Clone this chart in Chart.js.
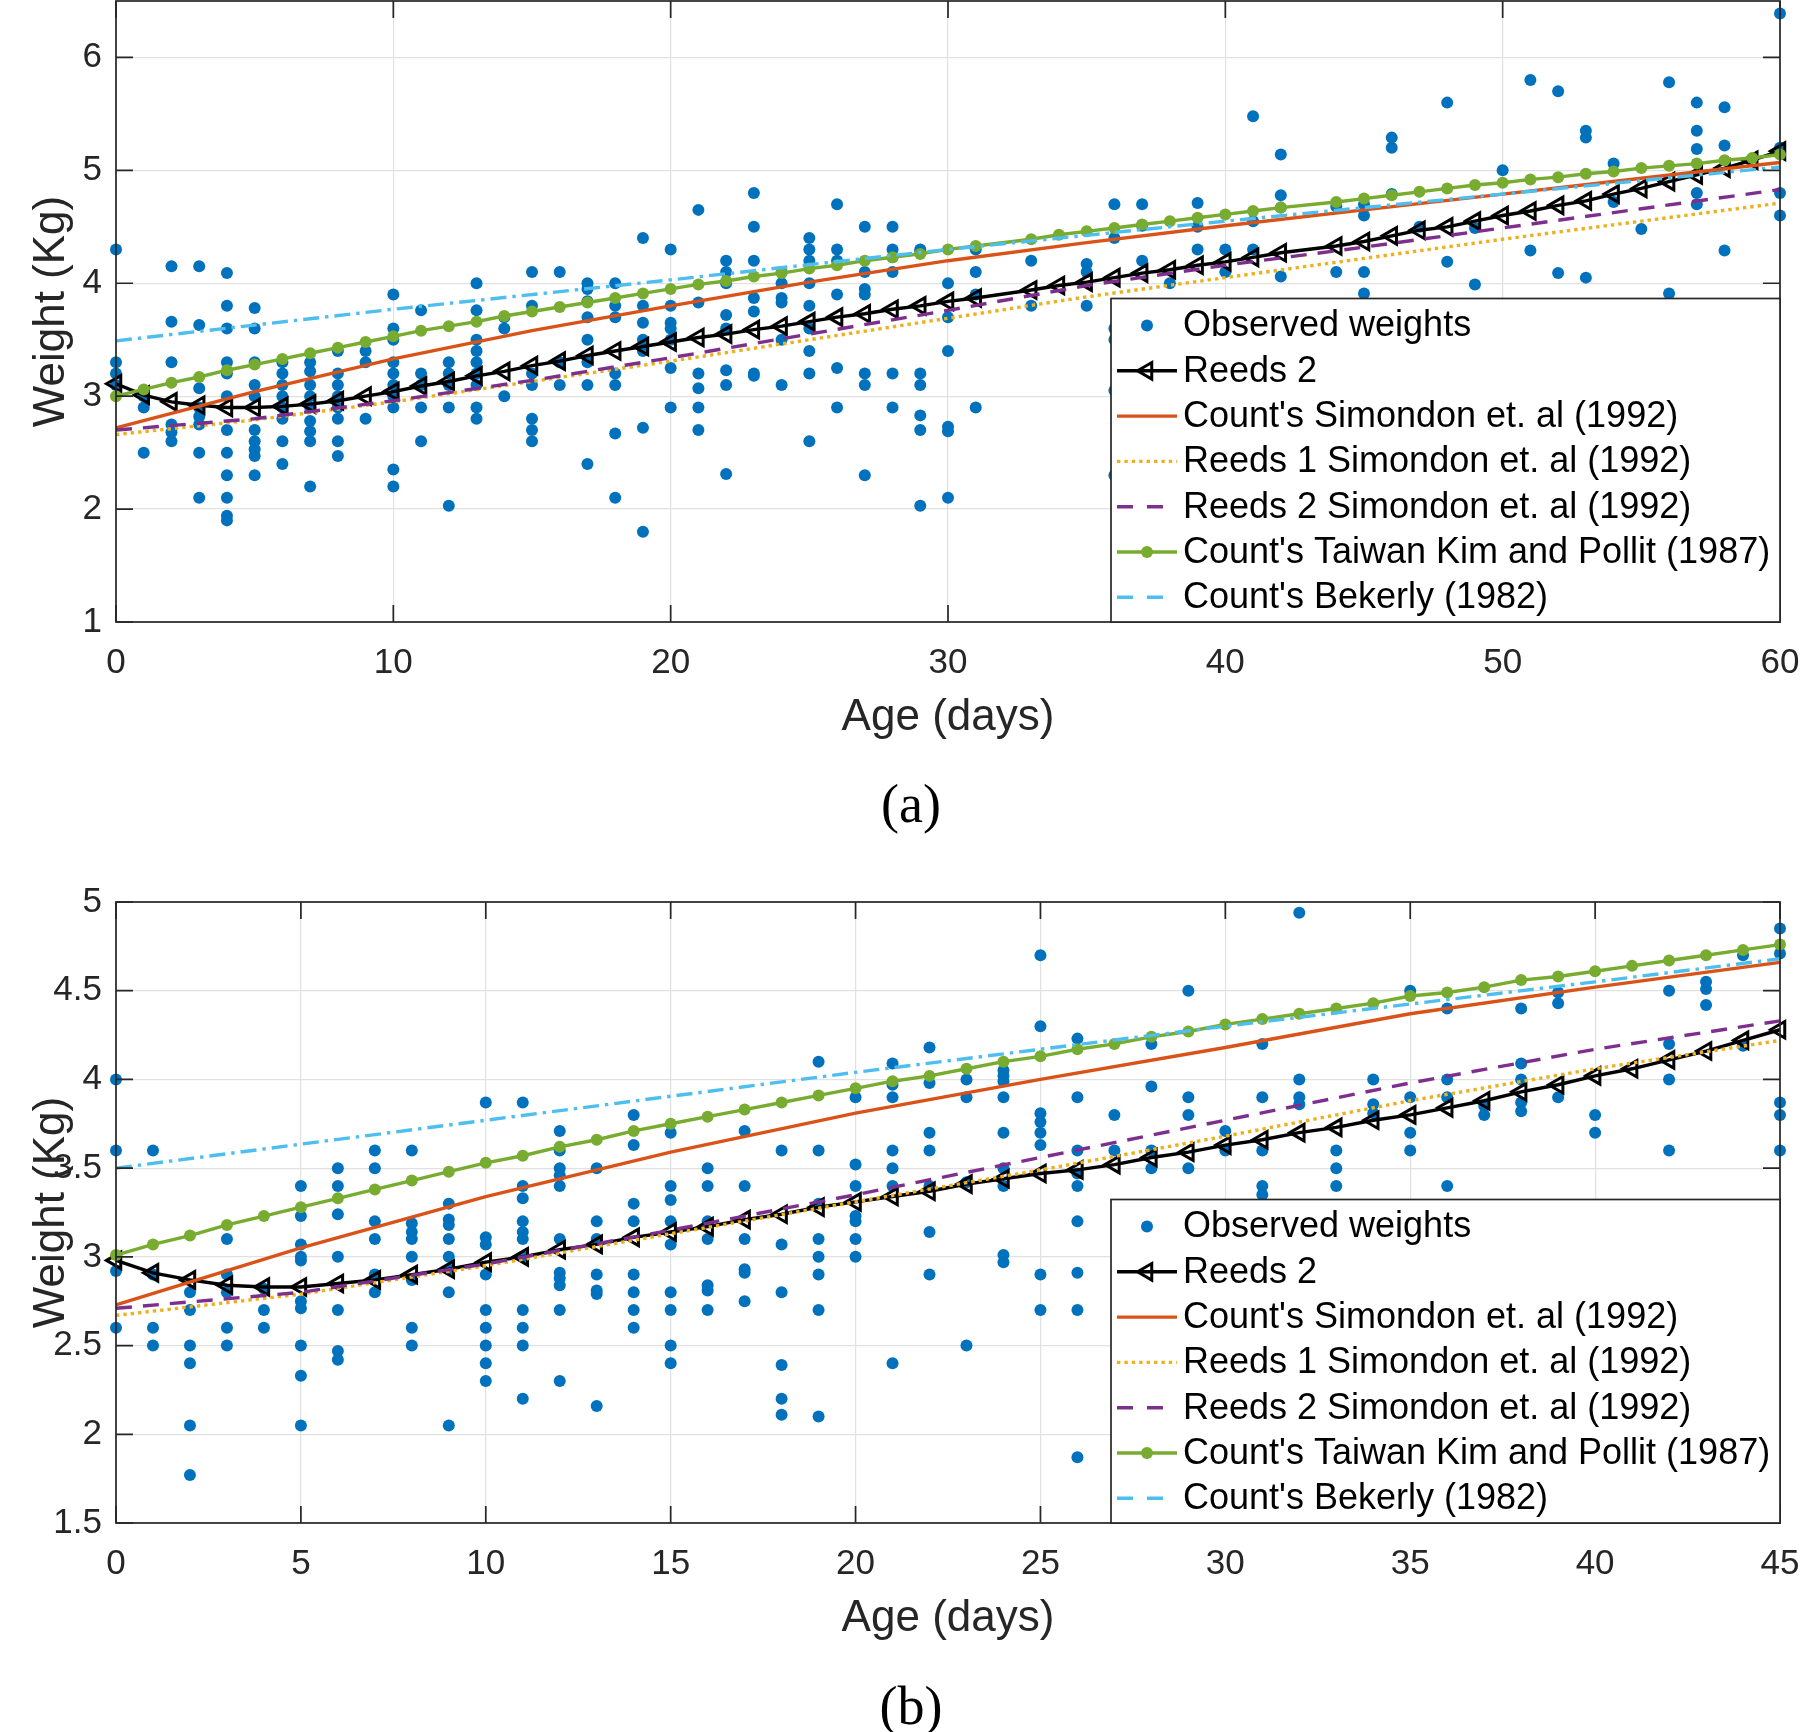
<!DOCTYPE html>
<html>
<head>
<meta charset="utf-8">
<script src="https://cdn.jsdelivr.net/npm/chart.js@4.4.1/dist/chart.umd.min.js"></script>
<style>
html,body{margin:0;padding:0;background:#fff;}
#wrap{position:relative;width:1800px;height:1732px;overflow:hidden;background:#fff;}
canvas{position:absolute;left:0;}
#cA{top:0;}
#cB{top:861px;}
.cap{position:absolute;width:200px;text-align:center;font-family:"Liberation Serif","Times New Roman",serif;font-size:54px;line-height:60px;color:#000;}
</style>
</head>
<body>
<div id="wrap">
<canvas id="cA" width="1800" height="760"></canvas>
<canvas id="cB" width="1800" height="800"></canvas>
<div class="cap" style="left:811px;top:774px">(a)</div>
<div class="cap" style="left:811px;top:1676px">(b)</div>
</div>
<script>
// ---------------- DATA : panel (a) ----------------
const xTicksA = [0, 10, 20, 30, 40, 50, 60];
const xTickLabelsA = ['0', '10', '20', '30', '40', '50', '60'];
const yTicksA = [1, 2, 3, 4, 5, 6];
const yTickLabelsA = ['1', '2', '3', '4', '5', '6'];

// observed weights: [age in days, [weights in kg]]
const observedA = [
  [0, [4.3, 3.3, 3.2, 3.1]],
  [1, [3.05, 3.0, 2.9, 2.5]],
  [2, [4.15, 3.66, 3.3, 2.75, 2.68, 2.6]],
  [3, [4.15, 3.63, 3.07, 2.9, 2.82, 2.75, 2.5, 2.1]],
  [4, [4.09, 3.8, 3.6, 3.3, 3.2, 3.0, 2.7, 2.5, 2.3, 2.1, 1.94, 1.9]],
  [5, [3.78, 3.6, 3.3, 3.1, 3.0, 2.7, 2.6, 2.53, 2.47, 2.3]],
  [6, [3.3, 3.2, 3.1, 3.0, 2.9, 2.8, 2.6, 2.4]],
  [7, [3.3, 3.22, 3.1, 3.0, 2.9, 2.78, 2.69, 2.6, 2.2]],
  [8, [3.4, 3.2, 3.1, 3.0, 2.9, 2.8, 2.6, 2.47]],
  [9, [3.4, 3.3, 2.8]],
  [10, [3.9, 3.6, 3.5, 3.3, 3.2, 3.1, 3.0, 2.9, 2.35, 2.2]],
  [11, [3.76, 3.2, 3.1, 2.9, 2.6]],
  [12, [3.3, 3.2, 3.1, 2.9, 2.03]],
  [13, [4.0, 3.76, 3.5, 3.4, 3.3, 3.2, 3.1, 2.9, 2.8]],
  [14, [3.7, 3.6, 3.0]],
  [15, [4.1, 3.8, 3.2, 3.1, 2.8, 2.7, 2.6]],
  [16, [4.1, 3.3, 3.1]],
  [17, [4.0, 3.95, 3.84, 3.7, 3.5, 3.3, 3.1, 2.4]],
  [18, [4.0, 3.8, 3.7, 3.2, 3.1, 2.67, 2.1]],
  [19, [4.4, 3.8, 3.65, 3.5, 3.4, 2.72, 1.8]],
  [20, [4.3, 3.8, 3.65, 3.6, 3.5, 3.25, 2.9]],
  [21, [4.65, 3.83, 3.2, 3.07, 2.9, 2.7]],
  [22, [4.2, 4.1, 4.0, 3.72, 3.6, 3.23, 3.1, 2.31]],
  [23, [4.8, 4.5, 4.2, 3.87, 3.75, 3.2, 3.18]],
  [24, [4.1, 4.0, 3.87, 3.83, 3.5, 3.1]],
  [25, [4.4, 4.3, 4.2, 4.0, 3.8, 3.6, 3.4, 3.2, 2.6]],
  [26, [4.7, 4.3, 4.2, 3.9, 3.25, 2.9]],
  [27, [4.5, 4.1, 3.95, 3.9, 3.2, 3.1, 2.3]],
  [28, [4.5, 4.3, 4.23, 4.1, 3.2, 2.9]],
  [29, [4.3, 4.28, 3.2, 3.1, 2.83, 2.7, 2.03]],
  [30, [4.0, 3.7, 3.4, 2.73, 2.69, 2.1]],
  [31, [4.3, 4.1, 3.9, 2.9]],
  [33, [4.2, 3.8]],
  [35, [4.17, 4.1, 3.8]],
  [36, [4.7, 4.4, 3.6, 3.5, 3.05, 2.3]],
  [37, [4.7, 4.51, 4.2]],
  [38, [4.0]],
  [39, [4.71, 4.5, 4.3]],
  [40, [4.3, 4.1]],
  [41, [5.48, 4.55, 4.3]],
  [42, [5.14, 4.78, 4.67, 4.06]],
  [44, [4.68, 4.1]],
  [45, [4.7, 4.6, 4.1, 3.91]],
  [46, [5.29, 5.2, 4.79]],
  [47, [4.5]],
  [48, [5.6, 4.19]],
  [49, [4.49, 3.99]],
  [50, [5.0]],
  [51, [5.8, 4.29]],
  [52, [5.7, 4.09]],
  [53, [5.35, 5.29, 4.05]],
  [54, [5.06, 4.72]],
  [55, [4.48]],
  [56, [5.78, 3.91]],
  [57, [5.6, 5.35, 5.19, 4.8, 4.7]],
  [58, [5.56, 5.22, 4.29]],
  [60, [6.39, 5.2, 4.8, 4.6]]
];

const daysA = [0,1,2,3,4,5,6,7,8,9,10,11,12,13,14,15,16,17,18,19,20,21,22,23,24,25,26,27,28,29,30,31,
  33,34,35,36,37,38,39,40,41,42,44,45,46,47,48,49,50,51,52,53,54,55,56,57,58,59,60];
const reeds2A = [3.11,3.01,2.95,2.92,2.90,2.90,2.91,2.93,2.96,3.00,3.04,3.09,3.13,3.18,3.22,3.27,3.31,3.36,3.40,3.44,3.48,3.52,3.55,3.59,3.62,3.66,3.70,3.73,3.77,3.80,3.84,3.87,
  3.94,3.98,4.01,4.05,4.09,4.12,4.16,4.19,4.23,4.27,4.33,4.37,4.42,4.47,4.50,4.55,4.60,4.64,4.69,4.73,4.79,4.84,4.90,4.96,5.02,5.09,5.17];
const taiwanA = [3.00,3.06,3.12,3.17,3.23,3.28,3.33,3.38,3.43,3.48,3.53,3.58,3.62,3.66,3.71,3.75,3.79,3.83,3.87,3.91,3.95,3.99,4.02,4.06,4.09,4.13,4.16,4.20,4.23,4.26,4.30,4.33,
  4.39,4.43,4.46,4.49,4.52,4.55,4.58,4.61,4.64,4.67,4.72,4.75,4.78,4.81,4.84,4.87,4.89,4.92,4.94,4.97,4.99,5.02,5.04,5.06,5.09,5.11,5.14];
const knotDaysA = [0, 5, 10, 15, 20, 25, 30, 35, 40, 45, 50, 55, 60];
const simondonA = [2.72, 3.04, 3.33, 3.58, 3.80, 4.01, 4.20, 4.36, 4.51, 4.65, 4.79, 4.93, 5.07];
const reeds1SimA = [2.66, 2.79, 2.95, 3.13, 3.31, 3.50, 3.69, 3.88, 4.05, 4.22, 4.39, 4.55, 4.71];
const reeds2SimA = [2.70, 2.80, 2.96, 3.14, 3.34, 3.55, 3.76, 3.98, 4.16, 4.32, 4.49, 4.66, 4.83];
const bekerlyDaysA = [0, 10, 20, 30, 40, 50, 60];
const bekerlyA = [3.49, 3.77, 4.03, 4.30, 4.55, 4.79, 5.03];

// ---------------- DATA : panel (b) ----------------
const xTicksB = [0, 5, 10, 15, 20, 25, 30, 35, 40, 45];
const xTickLabelsB = ['0', '5', '10', '15', '20', '25', '30', '35', '40', '45'];
const yTicksB = [1.5, 2, 2.5, 3, 3.5, 4, 4.5, 5];
const yTickLabelsB = ['1.5', '2', '2.5', '3', '3.5', '4', '4.5', '5'];

const observedB = [
  [0, [4.0, 3.6, 2.92, 2.6]],
  [1, [3.6, 2.9, 2.6, 2.5]],
  [2, [2.8, 2.7, 2.5, 2.4, 2.05, 1.77]],
  [3, [3.1, 2.9, 2.8, 2.6, 2.5]],
  [4, [2.82, 2.7, 2.6]],
  [5, [3.4, 3.23, 3.07, 3.0, 2.98, 2.75, 2.71, 2.5, 2.33, 2.05]],
  [6, [3.5, 3.4, 3.24, 3.0, 2.7, 2.47, 2.42]],
  [7, [3.6, 3.5, 3.2, 3.1, 2.9, 2.8]],
  [8, [3.6, 3.19, 3.14, 3.1, 3.0, 2.87, 2.6, 2.5]],
  [9, [3.3, 3.21, 3.18, 3.1, 3.0, 2.93, 2.8, 2.05]],
  [10, [3.87, 3.11, 3.07, 2.9, 2.7, 2.6, 2.5, 2.4, 2.3]],
  [11, [3.87, 3.4, 3.33, 3.2, 3.14, 3.1, 3.0, 2.7, 2.6, 2.5, 2.2]],
  [12, [3.71, 3.6, 3.5, 3.46, 3.4, 3.1, 2.91, 2.88, 2.84, 2.7, 2.3]],
  [13, [3.5, 3.2, 3.1, 2.9, 2.81, 2.79, 2.16]],
  [14, [3.8, 3.63, 3.3, 3.2, 2.9, 2.8, 2.7, 2.6]],
  [15, [3.7, 3.4, 3.32, 3.2, 3.07, 2.8, 2.7, 2.5, 2.4]],
  [16, [3.5, 3.4, 3.2, 3.1, 2.84, 2.81, 2.7]],
  [17, [3.71, 3.4, 3.1, 2.93, 2.91, 2.75]],
  [18, [3.6, 3.07, 2.8, 2.39, 2.2, 2.11]],
  [19, [4.1, 3.6, 3.3, 3.1, 3.0, 2.9, 2.7, 2.1]],
  [20, [3.9, 3.52, 3.4, 3.23, 3.2, 3.1, 3.0]],
  [21, [4.09, 3.97, 3.9, 3.6, 3.5, 3.4, 2.4]],
  [22, [4.18, 3.98, 3.7, 3.6, 3.4, 3.14, 2.9]],
  [23, [4.0, 3.9, 3.42, 2.5]],
  [24, [4.05, 4.02, 3.99, 3.9, 3.7, 3.5, 3.4, 3.01, 2.97]],
  [25, [4.7, 4.3, 3.81, 3.76, 3.7, 3.63, 2.9, 2.7]],
  [26, [4.23, 3.9, 3.6, 3.47, 3.4, 3.2, 2.91, 2.7, 1.87]],
  [27, [3.8, 3.6]],
  [28, [4.2, 3.96, 3.6, 3.5]],
  [29, [4.5, 3.9, 3.8, 3.5]],
  [30, [3.71, 3.6]],
  [31, [4.2, 3.9, 3.6, 3.4, 3.35]],
  [32, [4.94, 4.0, 3.9, 3.86]],
  [33, [3.6, 3.5, 3.4]],
  [34, [4.0, 3.86, 3.81]],
  [35, [4.5, 3.9, 3.7, 3.6]],
  [36, [4.4, 4.0, 3.9, 3.4]],
  [37, [3.85, 3.8]],
  [38, [4.4, 4.09, 4.0, 3.87, 3.82]],
  [39, [4.49, 4.43, 3.9]],
  [40, [3.8, 3.7]],
  [42, [4.5, 4.2, 4.0, 3.6]],
  [43, [4.55, 4.51, 4.42]],
  [44, [4.7, 4.19]],
  [45, [4.85, 4.71, 3.87, 3.8, 3.6]]
];

const daysB = [0,1,2,3,4,5,6,7,8,9,10,11,12,13,14,15,16,17,18,19,20,21,22,23,24,25,26,27,28,29,30,31,32,33,34,35,36,37,38,39,40,41,42,43,44,45];
const reeds2B = [2.98,2.91,2.87,2.84,2.83,2.83,2.85,2.87,2.90,2.93,2.97,3.00,3.04,3.07,3.11,3.14,3.17,3.21,3.24,3.28,3.31,3.34,3.37,3.41,3.44,3.47,3.49,3.52,3.56,3.59,3.63,3.66,3.70,3.73,3.77,3.80,3.84,3.88,3.93,3.97,4.02,4.06,4.11,4.16,4.22,4.28];
const taiwanB = [3.01,3.07,3.12,3.18,3.23,3.28,3.33,3.38,3.43,3.48,3.53,3.57,3.62,3.66,3.71,3.75,3.79,3.83,3.87,3.91,3.95,3.99,4.02,4.06,4.10,4.13,4.17,4.20,4.24,4.27,4.31,4.34,4.37,4.40,4.43,4.47,4.49,4.52,4.56,4.58,4.61,4.64,4.67,4.70,4.73,4.76];
const knotDaysB = [0, 5, 10, 15, 20, 25, 30, 35, 40, 45];
const simondonB = [2.73, 3.05, 3.34, 3.59, 3.81, 4.00, 4.18, 4.37, 4.52, 4.66];
const reeds1SimB = [2.67, 2.79, 2.95, 3.13, 3.31, 3.49, 3.68, 3.88, 4.06, 4.22];
const reeds2SimB = [2.71, 2.80, 2.96, 3.15, 3.35, 3.56, 3.77, 3.98, 4.17, 4.33];
const bekerlyDaysB = [0, 10, 20, 30, 40, 45];
const bekerlyB = [3.50, 3.77, 4.04, 4.30, 4.55, 4.68];

const seriesNames = ['Observed weights', 'Reeds 2', "Count's Simondon et. al (1992)",
  'Reeds 1 Simondon et. al (1992)', 'Reeds 2 Simondon et. al (1992)',
  "Count's Taiwan Kim and Pollit (1987)", "Count's Bekerly (1982)"];

// ---------------- helpers ----------------
const FONT = '"Liberation Sans", Arial, Helvetica, sans-serif';
const AXC = '#262626';
function expand(groups) {
  const pts = [];
  groups.forEach(([d, ws]) => ws.forEach(w => pts.push({x: d, y: w})));
  return pts;
}
function zip(xs, ys) { return xs.map((x, i) => ({x: x, y: ys[i]})); }

// style info (kept apart from the data)
const LW = 3.4;
const STY = [
  {color: '#0072BD', kind: 'dots', r: 6},
  {color: '#000000', kind: 'line', marker: 'tri', r: 9.5, dash: []},
  {color: '#D95319', kind: 'line', dash: []},
  {color: '#EDB120', kind: 'line', dash: [3.4, 4], legDash: [3.4, 4]},
  {color: '#7E2F8E', kind: 'line', dash: [16, 11], legDash: [16, 14]},
  {color: '#77AC30', kind: 'line', marker: 'dot', r: 6, dash: []},
  {color: '#4DBEEE', kind: 'line', dash: [16, 6, 3.4, 6], legDash: [16, 14]}
];

const decorPlugin = {
  id: 'decor',
  afterDatasetsDraw(chart) {
    const ctx = chart.ctx, a = chart.chartArea;
    const xs = chart.scales.x, ys = chart.scales.y;
    ctx.save();
    // box and inner ticks
    ctx.strokeStyle = AXC; ctx.lineWidth = 1.7;
    ctx.strokeRect(a.left, a.top, a.right - a.left, a.bottom - a.top);
    const L = 17;
    ctx.beginPath();
    xs.ticks.forEach(t => {
      const p = xs.getPixelForValue(t.value);
      ctx.moveTo(p, a.bottom); ctx.lineTo(p, a.bottom - L);
      ctx.moveTo(p, a.top); ctx.lineTo(p, a.top + L);
    });
    ys.ticks.forEach(t => {
      const p = ys.getPixelForValue(t.value);
      ctx.moveTo(a.left, p); ctx.lineTo(a.left + L, p);
      ctx.moveTo(a.right, p); ctx.lineTo(a.right - L, p);
    });
    ctx.stroke();
    // legend
    const bw = 669, bh = 323.5;
    const bx = a.right - bw, by = a.bottom - bh;
    ctx.fillStyle = '#fff';
    ctx.fillRect(bx, by, bw, bh);
    ctx.strokeStyle = AXC; ctx.lineWidth = 1.7;
    ctx.strokeRect(bx, by, bw, bh);
    chart.data.datasets.forEach((ds, i) => {
      const s = STY[i];
      const cy = by + 27 + i * 45.3;
      const x0 = bx + 6, x1 = bx + 66, xm = bx + 36;
      if (s.kind === 'line') {
        ctx.save();
        ctx.strokeStyle = s.color; ctx.lineWidth = LW;
        ctx.setLineDash(s.legDash || []);
        ctx.beginPath(); ctx.moveTo(x0, cy); ctx.lineTo(x1, cy); ctx.stroke();
        ctx.restore();
      }
      if (s.kind === 'dots' || s.marker === 'dot') {
        ctx.fillStyle = s.color;
        ctx.beginPath(); ctx.arc(xm, cy, s.r, 0, Math.PI * 2); ctx.fill();
      }
      if (s.marker === 'tri') {
        const r = s.r;
        ctx.strokeStyle = s.color; ctx.lineWidth = 3; ctx.setLineDash([]);
        ctx.beginPath();
        ctx.moveTo(xm - r, cy);
        ctx.lineTo(xm + r * 0.5, cy - r * 0.866);
        ctx.lineTo(xm + r * 0.5, cy + r * 0.866);
        ctx.closePath(); ctx.stroke();
      }
      ctx.fillStyle = '#000';
      ctx.font = '36px ' + FONT;
      ctx.textBaseline = 'middle';
      ctx.textAlign = 'left';
      ctx.fillText(ds.label, bx + 72, cy + 1);
    });
    ctx.restore();
  }
};

function buildChart(id, d) {
  const datasets = [
    {label: seriesNames[0], data: expand(d.observed), showLine: false, pointRadius: STY[0].r,
     pointBackgroundColor: STY[0].color, pointBorderWidth: 0, order: 10, clip: false},
    {label: seriesNames[1], data: zip(d.days, d.reeds2), showLine: true, borderColor: STY[1].color,
     borderWidth: LW, tension: 0, pointStyle: 'triangle', pointRotation: -90, pointRadius: STY[1].r,
     pointBorderWidth: 3, pointBorderColor: '#000', pointBackgroundColor: 'rgba(0,0,0,0)', order: 6, clip: false},
    {label: seriesNames[2], data: zip(d.knots, d.simondon), showLine: true, borderColor: STY[2].color,
     borderWidth: LW, tension: 0, pointRadius: 0, order: 5, clip: false},
    {label: seriesNames[3], data: zip(d.knots, d.reeds1Sim), showLine: true, borderColor: STY[3].color,
     borderWidth: LW, borderDash: STY[3].dash, tension: 0, pointRadius: 0, order: 4, clip: false},
    {label: seriesNames[4], data: zip(d.knots, d.reeds2Sim), showLine: true, borderColor: STY[4].color,
     borderWidth: LW, borderDash: STY[4].dash, tension: 0, pointRadius: 0, order: 3, clip: false},
    {label: seriesNames[5], data: zip(d.days, d.taiwan), showLine: true, borderColor: STY[5].color,
     borderWidth: LW, tension: 0, pointStyle: 'circle', pointRadius: STY[5].r, pointBorderWidth: 0,
     pointBackgroundColor: STY[5].color, order: 2, clip: false},
    {label: seriesNames[6], data: zip(d.bekDays, d.bekerly), showLine: true, borderColor: STY[6].color,
     borderWidth: LW, borderDash: STY[6].dash, tension: 0, pointRadius: 0, order: 1, clip: false}
  ];
  return new Chart(document.getElementById(id), {
    type: 'scatter',
    data: {datasets: datasets},
    options: {
      responsive: false, animation: false, devicePixelRatio: 1,
      layout: {autoPadding: false, padding: {left: 0, right: 20, top: d.padTop, bottom: 0}},
      plugins: {legend: {display: false}, tooltip: {enabled: false}},
      events: [],
      scales: {
        x: {
          type: 'linear', min: d.xMin, max: d.xMax,
          afterBuildTicks: s => { s.ticks = d.xTicks.map(v => ({value: v})); },
          afterFit: s => { s.height = 138; s.paddingLeft = 0; s.paddingRight = 0; },
          grid: {color: '#e1e1e1', lineWidth: 1.2, drawTicks: false},
          border: {display: false},
          ticks: {padding: 20, autoSkip: false, maxRotation: 0, color: AXC,
                  font: {family: FONT, size: 35}, callback: (v, i) => d.xTickLabels[i]},
          title: {display: true, text: 'Age (days)', color: AXC,
                  font: {family: FONT, size: 44, lineHeight: 1}, padding: {top: 0, bottom: 20.5}}
        },
        y: {
          type: 'linear', min: d.yMin, max: d.yMax,
          afterBuildTicks: s => { s.ticks = d.yTicks.map(v => ({value: v})); },
          afterFit: s => { s.width = 116; s.paddingTop = 0; s.paddingBottom = 0; },
          grid: {color: '#e1e1e1', lineWidth: 1.2, drawTicks: false},
          border: {display: false},
          ticks: {padding: 14, autoSkip: false, color: AXC,
                  font: {family: FONT, size: 35}, callback: (v, i) => d.yTickLabels[i]},
          title: {display: true, text: 'Weight (Kg)', color: AXC,
                  font: {family: FONT, size: 44, lineHeight: 1}, padding: {top: 30, bottom: 0}}
        }
      }
    },
    plugins: [decorPlugin]
  });
}

buildChart('cA', {
  observed: observedA, days: daysA, reeds2: reeds2A, taiwan: taiwanA,
  knots: knotDaysA, simondon: simondonA, reeds1Sim: reeds1SimA, reeds2Sim: reeds2SimA,
  bekDays: bekerlyDaysA, bekerly: bekerlyA,
  xMin: 0, xMax: 60, yMin: 1, yMax: 6.5, padTop: 1,
  xTicks: xTicksA, xTickLabels: xTickLabelsA, yTicks: yTicksA, yTickLabels: yTickLabelsA
});
buildChart('cB', {
  observed: observedB, days: daysB, reeds2: reeds2B, taiwan: taiwanB,
  knots: knotDaysB, simondon: simondonB, reeds1Sim: reeds1SimB, reeds2Sim: reeds2SimB,
  bekDays: bekerlyDaysB, bekerly: bekerlyB,
  xMin: 0, xMax: 45, yMin: 1.5, yMax: 5, padTop: 41,
  xTicks: xTicksB, xTickLabels: xTickLabelsB, yTicks: yTicksB, yTickLabels: yTickLabelsB
});
</script>
</body>
</html>
